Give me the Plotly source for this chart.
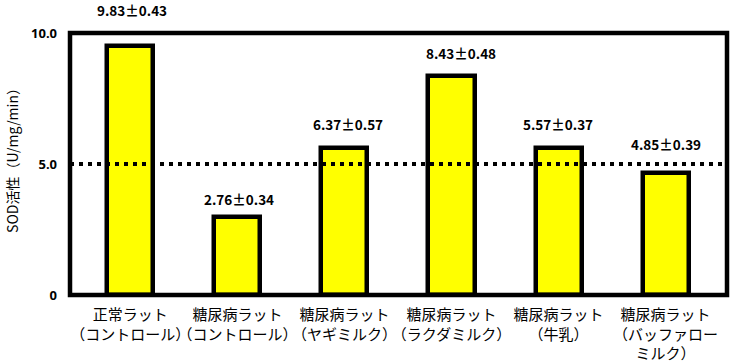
import plotly.graph_objects as go

categories = [
    "正常ラット<br>（コントロール）",
    "糖尿病ラット<br>（コントロール）",
    "糖尿病ラット<br>（ヤギミルク）",
    "糖尿病ラット<br>（ラクダミルク）",
    "糖尿病ラット<br>（牛乳）",
    "糖尿病ラット<br>（バッファロー<br>ミルク）",
]
bar_values = [9.52, 2.98, 5.61, 8.34, 5.61, 4.66]
value_labels = ["9.83±0.43", "2.76±0.34", "6.37±0.57", "8.43±0.48", "5.57±0.37", "4.85±0.39"]
reference_level = 5.0
y_tickvals = [0, 5, 10]
y_ticktext = ["0", "5.0", "10.0"]
y_title = "SOD活性（U/mg/min）"

# label placement (pixels) - styling only
label_yshift = [36, 18, 24, 23, 24, 29]
label_xshift = [2, 2, 4, 10, -1, 0]

x = list(range(len(categories)))

fig = go.Figure()
fig.add_trace(go.Bar(
    x=x, y=bar_values, width=0.43,
    marker=dict(color="#FFFF00", line=dict(color="black", width=4.5)),
    hoverinfo="skip",
))

for i, (v, t) in enumerate(zip(bar_values, value_labels)):
    fig.add_annotation(
        x=i, y=v, text="<b>" + t + "</b>", showarrow=False,
        xref="x", yref="y", yanchor="middle", xanchor="center",
        yshift=label_yshift[i], xshift=label_xshift[i],
        font=dict(family="Noto Sans CJK JP", size=13.5, color="black"),
    )

fig.add_annotation(
    x=0, y=0.527, xref="paper", yref="paper", text=y_title, textangle=-90,
    showarrow=False, xanchor="center", yanchor="middle", xshift=-58,
    font=dict(family="Noto Sans CJK JP", size=14, color="black"),
)

fig.add_shape(type="line", xref="paper", yref="y", x0=0, x1=1,
              y0=reference_level, y1=reference_level,
              line=dict(color="black", width=4, dash="4px,5px"))

fig.add_shape(type="rect", xref="paper", yref="paper", x0=0, x1=1, y0=0, y1=1,
              line=dict(color="black", width=4.5), layer="above")

fig.update_layout(
    width=730, height=363,
    margin=dict(l=70, r=3, t=33, b=68),
    plot_bgcolor="white", paper_bgcolor="white",
    showlegend=False,
    bargap=0,
    font=dict(family="Noto Sans CJK JP", color="black"),
)
fig.update_xaxes(
    range=[-0.564, 5.574], tickmode="array", tickvals=x, ticktext=categories,
    showgrid=False, zeroline=False, showline=False, ticks="",
    tickangle=0, automargin=False, ticklabelstandoff=9,
    tickfont=dict(family="Noto Sans CJK JP", size=15, color="black"),
    fixedrange=True,
)
fig.update_yaxes(
    range=[0, 10], tickmode="array", tickvals=y_tickvals, ticktext=y_ticktext,
    showgrid=False, zeroline=False, showline=False, ticks="",
    ticklabelstandoff=12, automargin=False,
    tickfont=dict(family="Noto Sans", size=13, color="black", weight="bold"),
    fixedrange=True,
)

fig.write_html("out.html", config={"displayModeBar": False},
               post_script="document.body.style.margin='0';")
